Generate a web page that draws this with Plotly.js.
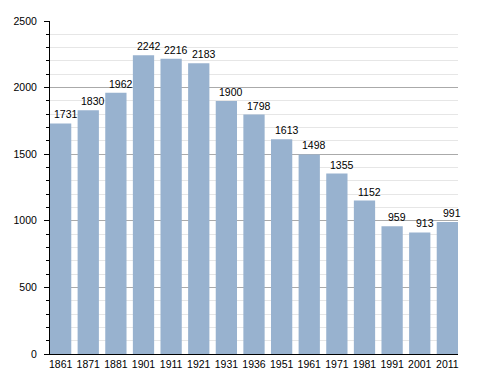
<!DOCTYPE html>
<html><head><meta charset="utf-8">
<script src="https://cdn.plot.ly/plotly-3.0.1.min.js"></script>
<style>html,body{margin:0;padding:0;background:#fff}#c{width:488px;height:373px}</style>
</head><body><div id="c"></div>
<script>
const years = ['1861','1871','1881','1901','1911','1921','1931','1936','1951','1961','1971','1981','1991','2001','2011'];
const population = [1731,1830,1962,2242,2216,2183,1900,1798,1613,1498,1355,1152,959,913,991];
const yTicks = [0,500,1000,1500,2000,2500];
const idx = years.map((_,i)=>i);
const gap = 0.23;

const trace = {
  type:'bar', x:idx, y:population,
  marker:{color:'#98b2cf', line:{width:0}},
  hoverinfo:'none'
};
const annotations = idx.map(i=>({
  x:i, y:population[i], xref:'x', yref:'y', text:String(population[i]),
  showarrow:false, yanchor:'bottom', xanchor:'center', xshift:5, yshift:1,
  font:{family:'Liberation Sans, Arial, sans-serif', size:10.5, color:'#000'}
}));
const layout = {
  width:488, height:373,
  margin:{l:50,r:30,t:21,b:19},
  paper_bgcolor:'#fff', plot_bgcolor:'#fff',
  bargap:gap, showlegend:false,
  font:{family:'Liberation Sans, Arial, sans-serif', size:10.5, color:'#000'},
  xaxis:{range:[-0.5+gap/2, 14.5-gap/2], tickvals:idx, ticktext:years, showline:true, linecolor:'#000', linewidth:1, ticks:'', showgrid:false, zeroline:false, tickfont:{size:10.5}},
  yaxis:{range:[0,2500], tickvals:yTicks, ticktext:yTicks.map(String), showline:true, linecolor:'#000', linewidth:1,
    ticks:'outside', ticklen:5, tickcolor:'#000', gridcolor:'#aaa', gridwidth:1, zeroline:false,
    ticklabelstandoff:5,
    minor:{dtick:100, ticks:'outside', ticklen:3, tickcolor:'#000', showgrid:true, gridcolor:'#e6e6e6'},
    tickfont:{size:10.5}},
  annotations:annotations
};
Plotly.newPlot('c',[trace],layout,{staticPlot:true,displayModeBar:false});
</script></body></html>
